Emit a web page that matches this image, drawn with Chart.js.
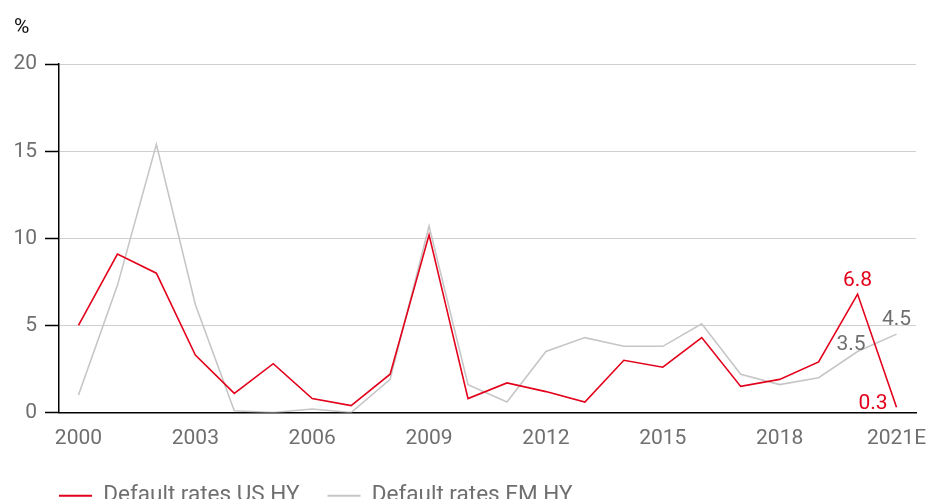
<!DOCTYPE html>
<html lang="en">
<head>
<meta charset="UTF-8">
<title>Default rates US HY vs EM HY</title>
<script src="https://cdn.jsdelivr.net/npm/chart.js"></script>
<style>
  html, body { margin: 0; padding: 0; overflow: hidden; background: #fff; }
  #wrap { position: relative; width: 927px; height: 517px; }
</style>
</head>
<body>
<div id="wrap"><canvas id="defaultsChart"></canvas></div>
<script>
// years on the x axis (2021 is an estimate)
const years = ['2000', '2001', '2002', '2003', '2004', '2005', '2006', '2007', '2008', '2009', '2010',
  '2011', '2012', '2013', '2014', '2015', '2016', '2017', '2018', '2019', '2020', '2021E'];

// default rates in %
const usHY = [5.0, 9.1, 8.0, 3.3, 1.1, 2.8, 0.8, 0.4, 2.2, 10.2, 0.8, 1.7, 1.2, 0.6, 3.0, 2.6, 4.3, 1.5, 1.9, 2.9, 6.8, 0.3];
const emHY = [1.0, 7.3, 15.4, 6.2, 0.1, 0.0, 0.2, 0.0, 1.9, 10.7, 1.6, 0.6, 3.5, 4.3, 3.8, 3.8, 5.1, 2.2, 1.6, 2.0, 3.5, 4.5];

const yTicks = [0, 5, 10, 15, 20];

const RED = '#e3001b';
const GREY = '#c6c6c6';
const TEXT_GREY = '#6f6f6f';
const FONT = { family: 'Roboto, "Liberation Sans", sans-serif', size: 21, weight: 'normal' };
const LEGEND_FONT = { family: FONT.family, size: 22.5, weight: 'normal' };

// value labels for the last two years
const valueLabels = {
  id: 'valueLabels',
  afterDatasetsDraw(chart) {
    const ctx = chart.ctx;
    const marks = [
      { ds: 0, i: 20, align: 'center', dx: 0, dy: -8, color: RED },
      { ds: 0, i: 21, align: 'right', dx: -9, dy: 2, color: RED },
      { ds: 1, i: 20, align: 'right', dx: 8, dy: -2, color: TEXT_GREY },
      { ds: 1, i: 21, align: 'center', dx: 0, dy: -9, color: TEXT_GREY }
    ];
    ctx.save();
    ctx.font = FONT.size + 'px ' + FONT.family;
    ctx.textBaseline = 'alphabetic';
    marks.forEach(m => {
      const pt = chart.getDatasetMeta(m.ds).data[m.i];
      const v = chart.data.datasets[m.ds].data[m.i];
      ctx.fillStyle = m.color;
      ctx.textAlign = m.align;
      ctx.fillText(v.toFixed(1), pt.x + m.dx, pt.y + m.dy);
    });
    ctx.restore();
  }
};

// line the legend up with the y axis
const legendShift = {
  id: 'legendShift',
  beforeDraw(chart) {
    const lg = chart.legend;
    lg.left = chart.chartArea.left - lg.options.labels.padding;
  }
};

new Chart(document.getElementById('defaultsChart'), {
  type: 'line',
  data: {
    labels: years,
    datasets: [{
      label: 'Default rates US HY',
      data: usHY,
      borderColor: RED,
      backgroundColor: RED,
      borderWidth: 1.6,
      pointRadius: 0,
      tension: 0
    }, {
      label: 'Default rates EM HY',
      data: emHY,
      borderColor: GREY,
      backgroundColor: GREY,
      borderWidth: 1.6,
      pointRadius: 0,
      tension: 0
    }]
  },
  options: {
    responsive: true,
    maintainAspectRatio: false,
    animation: false,
    layout: { padding: { left: 14, right: 11, top: 0, bottom: 0 } },
    plugins: {
      title: {
        display: true,
        text: '%',
        align: 'start',
        color: '#111',
        font: FONT,
        padding: { top: 15, bottom: 24 }
      },
      legend: {
        position: 'bottom',
        align: 'start',
        labels: {
          color: TEXT_GREY,
          font: LEGEND_FONT,
          boxWidth: 33,
          boxHeight: 2,
          padding: 28,
          generateLabels(chart) {
            return chart.data.datasets.map((ds, i) => ({
              text: ds.label,
              fillStyle: ds.borderColor,
              strokeStyle: ds.borderColor,
              lineWidth: 0,
              fontColor: TEXT_GREY,
              datasetIndex: i
            }));
          }
        }
      },
      tooltip: { enabled: false }
    },
    scales: {
      x: {
        offset: true,
        grid: { display: false, drawTicks: true, tickLength: 14 },
        border: { display: true, color: '#000', width: 1.5 },
        ticks: {
          color: TEXT_GREY,
          font: FONT,
          padding: 0,
          autoSkip: false,
          maxRotation: 0,
          callback(val, idx) { return idx % 3 === 0 ? years[idx] : null; }
        },
        afterFit(scale) { scale.height = 44; }
      },
      y: {
        min: 0,
        max: 20,
        afterBuildTicks(scale) { scale.ticks = yTicks.map(v => ({ value: v })); },
        grid: { color: '#cfcfcf', lineWidth: 1, tickColor: '#000', tickLength: 14, tickWidth: 1.5 },
        border: { display: true, color: '#000', width: 1.5 },
        ticks: { color: TEXT_GREY, font: FONT, padding: 8 },
        afterFit(scale) { scale.width = 45; }
      }
    }
  },
  plugins: [valueLabels, legendShift]
});
</script>
</body>
</html>
